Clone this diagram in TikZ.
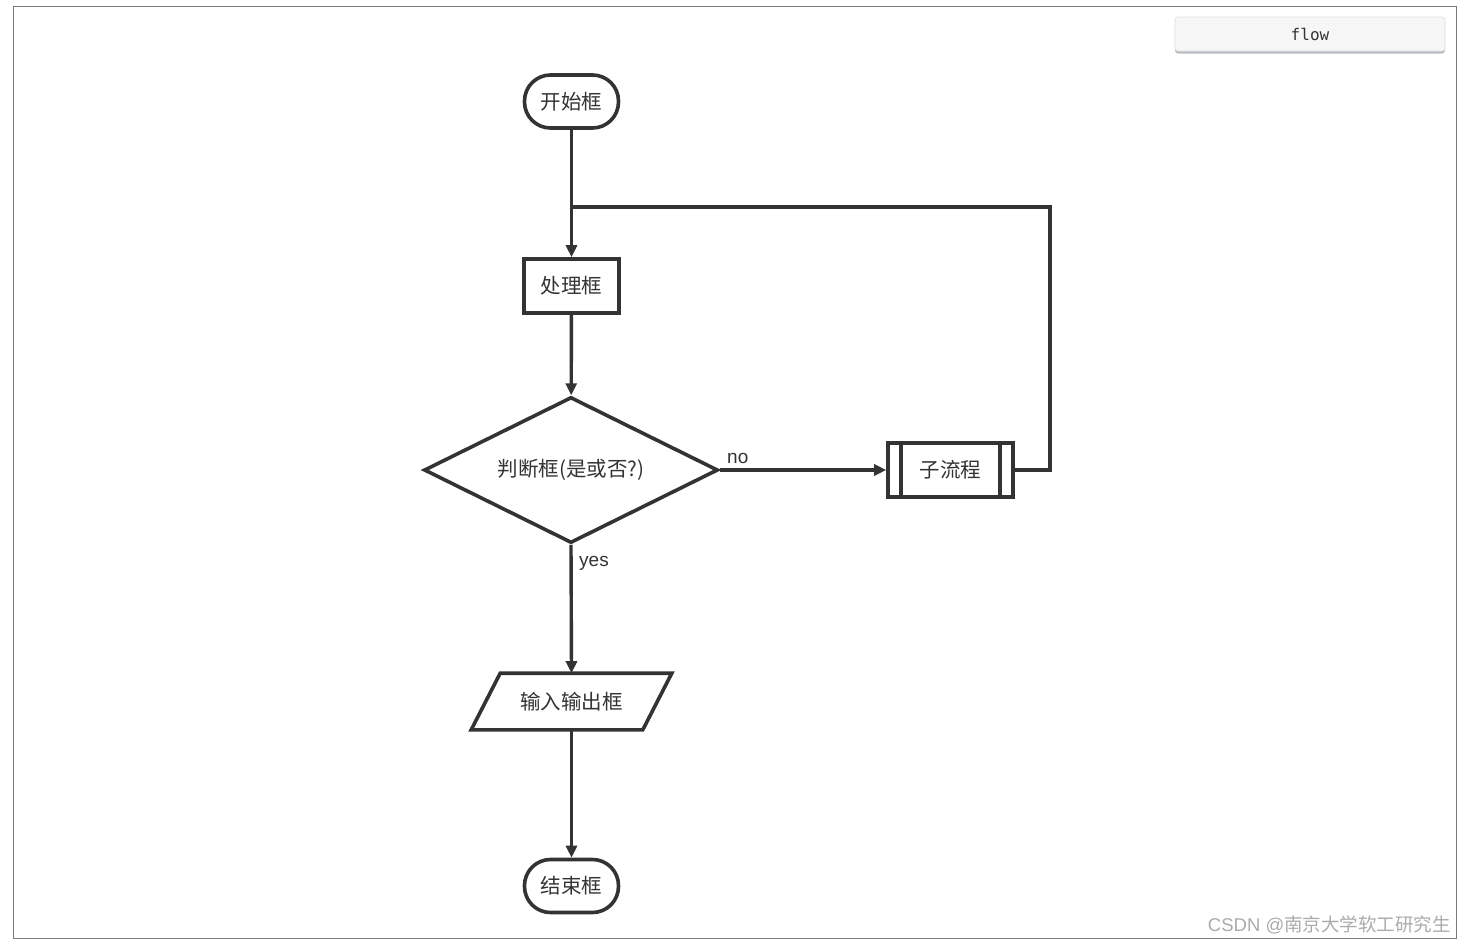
\documentclass[tikz,border=0pt]{standalone}
\usepackage{fontspec}
\setmainfont{Liberation Sans}
\newfontfamily\cjk{Noto Sans CJK SC}
\newfontfamily\monof{DejaVu Sans Mono}
\usetikzlibrary{shapes.geometric,shapes.misc,arrows.meta,calc}
\definecolor{ink}{HTML}{333333}
\definecolor{frame}{HTML}{7A7A7A}
\definecolor{wmark}{HTML}{ABABAB}
\definecolor{btnfill}{HTML}{F6F6F6}
\definecolor{btnline}{HTML}{E2E2E2}
\definecolor{btnshadow}{HTML}{B8BEC4}
\begin{document}
\begin{tikzpicture}[x=1pt,y=-1pt,
  base/.style={draw=ink,line width=3.6pt,fill=white,text=ink,inner sep=0pt,
    font=\cjk\fontsize{20.5}{24}\selectfont},
  terminal/.style={base,rectangle,rounded corners=26pt,minimum width=94pt,minimum height=53pt},
  process/.style={base,rectangle,minimum width=95pt,minimum height=54pt},
  decision/.style={base,diamond,aspect=2,minimum width=294pt,minimum height=146pt},
  subproc/.style={base,rectangle,minimum width=125pt,minimum height=54pt},
  iobox/.style={base,draw=none,fill=none,rectangle,minimum width=197pt,minimum height=53pt},
  conn/.style={draw=ink,line width=3.4pt},
  arr/.style={conn,-{Triangle[length=12pt,width=11pt]}},
  lbl/.style={text=ink,font=\fontsize{19}{22}\selectfont,inner sep=0pt}
]
\useasboundingbox (0,0) rectangle (1468,943);
\fill[white] (0,0) rectangle (1468,943);
% outer frame
\draw[frame,line width=1.2pt] (13.5,6.5) rectangle (1456.5,938.5);
% flow button
\fill[btnshadow,rounded corners=3pt] (1175,19) rectangle (1445,53.5);
\node[draw=btnline,line width=0.8pt,fill=btnfill,rounded corners=3pt,minimum width=270pt,minimum height=34pt,
  inner sep=0pt,text=ink,font=\monof\fontsize{16}{18}\selectfont] (btn) at (1310,34) {flow};

% nodes
\node[terminal] (start) at (571.5,101.5) {开始框};
\node[process] (proc) at (571.5,286) {处理框};
\node[decision] (dec) at (571,470) {判断框(是或否?)};
\node[subproc] (sub) at (950.5,470) {子流程};
\draw[ink,line width=3.6pt] ($(sub.north west)+(15,0)$) -- ($(sub.south west)+(15,0)$);
\draw[ink,line width=3.6pt] ($(sub.north east)+(-15,0)$) -- ($(sub.south east)+(-15,0)$);
\node[iobox] (io) at (571.5,701.5) {输入输出框};
\draw[ink,line width=3.6pt,line join=miter]
  ($(io.north west)+(29,0)$) -- (io.north east) -- ($(io.south east)+(-29,0)$) -- (io.south west) -- cycle;
\node[terminal] (end) at (571.5,886) {结束框};

% connectors
\coordinate (merge) at (571.5,207);
\coordinate (loopR) at (1050,470);
\coordinate (loopT) at (1050,207);
\draw[arr] (start) -- (proc);
\draw[conn,line join=miter] (sub.east) -- (loopR) -- (loopT) -- (merge);
\draw[arr] (proc) -- (dec);
\draw[arr] (dec.east) -- (sub.west);
\draw[arr] (dec.south) -- (io.north);
\draw[arr] (io.south) -- (end.north);

% labels
\node[lbl,anchor=base west] (nolbl) at (727,463) {no};
\node[lbl,anchor=base west] (yeslbl) at (579,566) {yes};

% watermark
\node[anchor=base east,inner sep=0pt,text=wmark,font=\fontsize{18.5}{20}\selectfont] (wm) at (1451,931)
  {CSDN @{\cjk 南京大学软工研究生}};
\end{tikzpicture}
\end{document}
